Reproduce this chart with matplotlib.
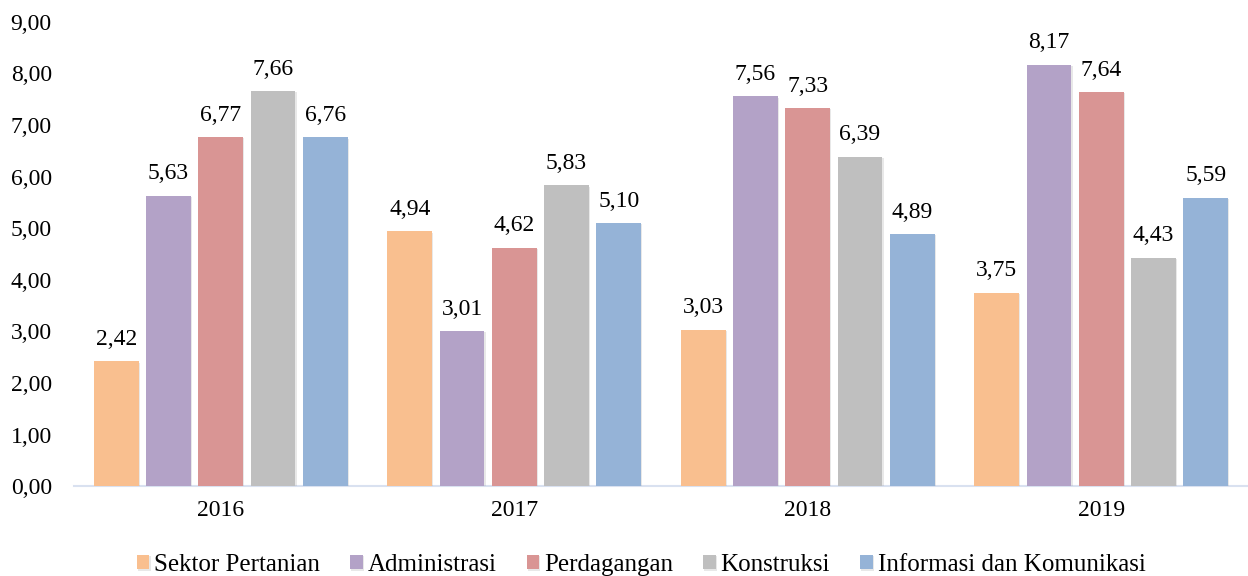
import matplotlib.pyplot as plt
import matplotlib.patheffects as pe
import numpy as np

plt.rcParams['font.family'] = ['Liberation Serif', 'DejaVu Serif']

# data
tahun = ['2016', '2017', '2018', '2019']
sektor = ['Sektor Pertanian', 'Administrasi', 'Perdagangan', 'Konstruksi',
          'Informasi dan Komunikasi']
pertanian = [2.42, 4.94, 3.03, 3.75]
administrasi = [5.63, 3.01, 7.56, 8.17]
perdagangan = [6.77, 4.62, 7.33, 7.64]
konstruksi = [7.66, 5.83, 6.39, 4.43]
infokom = [6.76, 5.10, 4.89, 5.59]
nilai = [pertanian, administrasi, perdagangan, konstruksi, infokom]
warna = ['#F9BF8F', '#B3A2C7', '#D99594', '#BFBFBF', '#95B3D7']

fig = plt.figure(figsize=(12.48, 5.76), dpi=100)
ax = fig.add_axes([0.0593, 0.156, 0.9407, 0.806])

x = np.arange(len(tahun))
step = 0.178
lebar = 0.152
bayangan = [pe.SimplePatchShadow(offset=(1, -1), shadow_rgbFace='#909090', alpha=0.2),
            pe.Normal()]

for i, (s, v) in enumerate(zip(sektor, nilai)):
    pos = x + (i - 2) * step
    bars = ax.bar(pos, v, lebar, color=warna[i], label=s, zorder=3)
    for b in bars:
        b.set_path_effects(bayangan)
    for px, val in zip(pos, v):
        ax.text(px, val + 0.22, f'{val:.2f}'.replace('.', ','), ha='center',
                va='bottom', fontsize=17)

ax.set_xlim(-0.5, 3.5)
ax.set_ylim(0, 9)
ax.set_yticks(np.arange(0, 10, 1))
ax.set_yticklabels([f'{t:.2f}'.replace('.', ',') for t in range(10)], fontsize=17)
ax.set_xticks(x)
ax.set_xticklabels(tahun, fontsize=17)
ax.tick_params(length=0)
ax.tick_params(axis='y', pad=16)
ax.tick_params(axis='x', pad=10)
for sp in ['top', 'right', 'left']:
    ax.spines[sp].set_visible(False)
ax.spines['bottom'].set_color('#D9E1F0')
ax.spines['bottom'].set_linewidth(1.5)

ax.legend(loc='center', bbox_to_anchor=(0.483, -0.17), ncol=5, frameon=False,
          fontsize=18, handlelength=0.5, handleheight=0.5, handletextpad=0.2,
          columnspacing=1.2, borderaxespad=0)

fig.savefig('out.png', dpi=100)
